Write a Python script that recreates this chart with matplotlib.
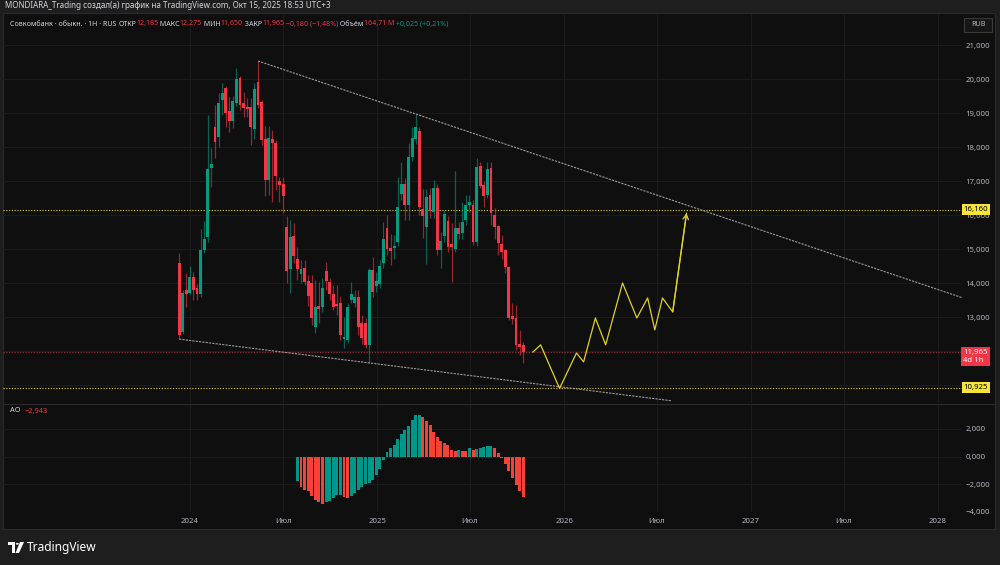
import matplotlib
matplotlib.use('Agg')
import matplotlib.pyplot as plt
import matplotlib.transforms as mtransforms
from matplotlib.patches import Rectangle, Polygon, Circle
import numpy as np
import pandas as pd

plt.rcParams['font.family'] = ['Noto Sans', 'DejaVu Sans']

# ---------------- data ----------------
dates = pd.date_range('2023-12-11', periods=97, freq='7D')
opens = [14.59, 12.56, 13.79, 13.70, 14.18, 13.85, 13.68, 14.97, 15.35, 17.38,
         18.59, 18.29, 19.38, 19.73, 19.06, 18.76, 19.29, 20.03, 19.29, 19.18,
         19.18, 18.53, 19.91, 19.32, 18.24, 17.03, 18.24, 18.12, 17.00, 16.91,
         15.65, 14.41, 15.38, 14.71, 14.26, 14.44, 14.06, 14.00, 12.71, 13.32,
         13.29, 14.35, 14.03, 13.68, 13.38, 13.41, 12.35, 12.32, 13.50, 13.41,
         13.59, 12.82, 12.82, 12.18, 14.38, 13.91, 13.97, 14.59, 15.62, 15.03,
         15.03, 15.20, 16.62, 16.91, 16.29, 17.71, 18.24, 18.47, 16.18, 15.65,
         16.59, 16.09, 16.79, 14.97, 15.38, 15.82, 15.15, 15.00, 15.62, 15.47,
         15.85, 16.29, 16.29, 15.20, 17.44, 16.88, 16.59, 17.38, 16.00, 15.68,
         15.15, 14.97, 14.47, 13.03, 12.97, 12.20, 12.185]
highs = [14.88, 13.79, 14.29, 14.50, 14.32, 13.97, 15.59, 15.82, 18.94, 17.97,
         19.24, 19.59, 19.88, 19.79, 19.47, 19.50, 20.32, 20.10, 19.62, 19.44,
         19.44, 19.88, 20.53, 19.38, 18.62, 18.62, 18.50, 18.21, 17.12, 17.12,
         15.97, 15.85, 15.76, 15.06, 14.68, 14.68, 14.24, 14.24, 14.09, 14.03,
         14.15, 14.62, 14.15, 13.94, 13.94, 13.62, 13.00, 13.40, 14.03, 13.79,
         13.79, 13.06, 12.97, 14.44, 14.76, 14.32, 14.68, 15.79, 16.00, 15.44,
         15.41, 17.12, 17.56, 17.10, 18.12, 18.59, 18.97, 18.60, 16.76, 16.76,
         16.80, 17.03, 16.90, 15.50, 16.15, 15.97, 15.76, 17.29, 15.80, 16.38,
         16.59, 16.59, 16.44, 17.68, 17.56, 17.00, 17.56, 17.56, 16.20, 15.70,
         15.41, 15.00, 14.50, 13.40, 13.35, 12.62, 12.275]
lows = [12.35, 12.50, 13.29, 13.68, 13.50, 13.50, 13.60, 14.88, 15.20, 16.82,
        17.68, 18.00, 18.94, 18.59, 18.44, 18.56, 19.20, 19.10, 18.88, 18.88,
        18.06, 18.24, 19.15, 18.06, 16.56, 16.59, 16.38, 16.74, 16.38, 16.06,
        14.00, 13.70, 14.60, 14.09, 14.00, 13.94, 13.32, 12.76, 12.53, 12.82,
        13.15, 13.79, 13.50, 13.20, 13.06, 12.32, 12.10, 12.24, 13.40, 13.30,
        12.47, 12.20, 12.09, 11.65, 13.60, 13.74, 13.85, 14.44, 14.82, 14.53,
        14.71, 15.09, 16.44, 15.85, 15.85, 17.60, 18.10, 16.00, 15.32, 14.56,
        15.90, 15.90, 14.82, 14.44, 15.20, 14.90, 14.03, 14.90, 15.30, 15.30,
        15.70, 16.10, 15.12, 15.10, 16.80, 16.24, 16.50, 15.70, 15.30, 14.82,
        14.70, 14.30, 12.90, 12.80, 12.03, 11.88, 11.650]
closes = [12.47, 13.70, 13.68, 14.18, 13.79, 13.68, 14.97, 15.30, 17.35, 17.50,
          18.15, 19.29, 19.59, 19.00, 18.76, 19.35, 20.00, 19.23, 19.15, 19.12,
          18.59, 19.70, 19.23, 18.21, 17.03, 18.26, 18.12, 17.15, 16.88, 16.56,
          14.35, 15.35, 14.79, 14.41, 14.41, 14.03, 13.62, 12.97, 13.29, 13.24,
          13.85, 14.06, 13.68, 13.29, 13.32, 12.47, 12.40, 13.29, 13.68, 13.59,
          12.71, 12.38, 12.18, 14.38, 13.74, 14.06, 14.50, 15.29, 15.00, 14.94,
          15.09, 16.24, 16.91, 16.29, 17.71, 18.26, 18.59, 16.24, 15.97, 16.53,
          16.12, 16.79, 14.97, 15.24, 16.03, 15.06, 15.06, 15.62, 15.44, 15.79,
          16.29, 16.38, 15.20, 17.41, 16.85, 16.56, 17.35, 16.06, 15.65, 15.18,
          14.91, 14.47, 12.97, 12.94, 12.18, 12.12, 11.965]

ao_dates = dates[33:]
ao_values = [-1.770, -2.254, -2.424, -2.545, -2.860, -3.151, -3.345, -3.466, -3.345, -3.224,
             -3.006, -2.836, -2.810, -2.957, -3.006, -2.860, -2.642, -2.400, -2.182, -2.036,
             -1.891, -1.721, -1.357, -0.921, -0.267, 0.339, 0.582, 0.824, 1.260, 1.648,
             1.891, 2.230, 2.642, 3.030, 3.050, 2.909, 2.594, 2.303, 1.794, 1.430,
             1.091, 1.018, 0.824, 0.461, 0.412, 0.485, 0.388, 0.380, 0.582, 0.461,
             0.533, 0.654, 0.703, 0.751, 0.776, 0.606, 0.242, -0.145, -0.558, -1.042,
             -1.576, -2.085, -2.545, -2.943]

forecast_dates = pd.to_datetime(['2025-11-01', '2025-11-16', '2025-12-23', '2026-01-25',
                                 '2026-02-08', '2026-03-03', '2026-03-23', '2026-04-25',
                                 '2026-05-23', '2026-06-13', '2026-06-27', '2026-07-12',
                                 '2026-08-01', '2026-08-28'])
forecast_prices = [11.97, 12.18, 10.90, 11.94, 11.68, 12.97, 12.18, 14.00,
                   12.97, 13.56, 12.62, 13.56, 13.15, 16.05]

upper_trend_dates = pd.to_datetime(['2024-05-13', '2028-02-17'])
upper_trend_prices = [20.53, 13.57]
lower_trend_dates = pd.to_datetime(['2023-12-11', '2026-07-30'])
lower_trend_prices = [12.35, 10.535]

level_high = 16.160
level_low = 10.925
last_price = 11.965

price_ticks = [13, 14, 15, 16, 17, 18, 19, 20, 21]
ao_ticks = [-4, -2, 0, 2]
time_ticks = pd.to_datetime(['2024-01-01', '2024-07-01', '2025-01-01', '2025-07-01',
                             '2026-01-01', '2026-07-01', '2027-01-01', '2027-07-01',
                             '2028-01-01'])
time_labels = ['2024', 'Июл', '2025', 'Июл', '2026', 'Июл', '2027', 'Июл', '2028']

# ---------------- style ----------------
W, H = 1000, 565
OUTER = '#1e1e1e'
BG = '#0f0f0f'
GRID = '#1b1b1b'
TXT = '#b2b5be'
GREEN = '#089981'
RED = '#f23645'
AO_GREEN = '#009688'
AO_RED = '#f44336'
YELLOW = '#f7e43a'
LINE_YEL = '#e0d02a'
FS = 5.6


def fx(px):
    return px / W


def fy(py):
    return 1 - py / H


def fmt(v):
    s = f"{abs(v):,.3f}".replace('.', ',')
    return ('\u2212' if v < 0 else '') + s


fig = plt.figure(figsize=(10, 5.65), dpi=100, facecolor=OUTER)

# chart panel
fig.add_artist(Rectangle((fx(3), fy(529)), fx(992), (529 - 13) / H, transform=fig.transFigure,
                         fc=BG, ec='#2b2b2b', lw=0.8, zorder=0))

xl = (pd.Timestamp('2023-01-01'), pd.Timestamp('2028-02-17'))

main = fig.add_axes([fx(3), fy(403), fx(959), (403 - 14) / H])
ao = fig.add_axes([fx(3), fy(512), fx(959), (512 - 404) / H])
for a in (main, ao):
    a.set_facecolor('none')
    for s in a.spines.values():
        s.set_visible(False)
    a.set_xlim(xl)
    a.set_xticks(time_ticks)
    a.grid(True, color=GRID, lw=0.8)
    a.set_axisbelow(True)
    a.yaxis.tick_right()
    a.tick_params(axis='y', length=0, pad=2.5, labelsize=FS, colors=TXT)
    a.tick_params(axis='x', length=0)

main.set_ylim(12 - (403 - 351) / 34, 12 + (351 - 14) / 34)
main.set_yticks(price_ticks)
main.set_yticklabels([fmt(v) for v in price_ticks])
for gl in (11, 12):
    main.axhline(gl, color=GRID, lw=0.8, zorder=0)
main.tick_params(axis='x', labelbottom=False)

ao.set_ylim(-(512 - 456.5) / 27.5 * 2, (456.5 - 404) / 27.5 * 2)
ao.set_yticks(ao_ticks)
ao.set_yticklabels([fmt(v) for v in ao_ticks])
ao.set_xticklabels(time_labels)
ao.tick_params(axis='x', labelsize=FS, colors=TXT, pad=4.5)

# candles
o = np.array(opens); c = np.array(closes); hi = np.array(highs); lo = np.array(lows)
up = c >= o
cols = np.where(up, GREEN, RED)
main.vlines(dates, lo, hi, colors=cols, lw=0.9, alpha=0.6, zorder=3)
body_bottom = np.minimum(o, c)
body_h = np.maximum(np.abs(c - o), 0.035)
main.bar(dates, body_h, bottom=body_bottom, width=5.6, color=cols, lw=0, zorder=4)

# levels
main.axhline(level_high, color=LINE_YEL, lw=0.8, ls=(0, (1, 1.5)), zorder=2)
main.axhline(level_low, color=LINE_YEL, lw=0.8, ls=(0, (1, 1.5)), zorder=2)
main.axhline(last_price, color='#8c2a33', lw=0.9, ls=(0, (1, 1.2)), zorder=2)

# trend lines
main.plot(upper_trend_dates, upper_trend_prices, color='#9a9a9a', lw=0.8,
          ls=(0, (2, 1)), zorder=5, clip_on=False)
main.plot(lower_trend_dates, lower_trend_prices, color='#9a9a9a', lw=0.8,
          ls=(0, (2, 1)), zorder=5)

# forecast path
main.plot(forecast_dates, forecast_prices, color=LINE_YEL, lw=0.9, zorder=6)
main.annotate('', xy=(forecast_dates[-1], forecast_prices[-1]),
              xytext=(forecast_dates[-2], forecast_prices[-2]),
              arrowprops=dict(arrowstyle='->,head_length=0.35,head_width=0.2',
                              color=LINE_YEL, lw=0.9, shrinkA=0, shrinkB=0), zorder=6)

# AO histogram
aov = np.array(ao_values)
diff = np.diff(aov, prepend=aov[0] - 1)
ao_cols = np.where(diff >= 0, AO_GREEN, AO_RED)
ao.bar(ao_dates, aov, width=5.8, color=ao_cols, lw=0, zorder=3)

# price scale labels in boxes
bt = mtransforms.blended_transform_factory(main.transAxes, main.transData)
main.text(1.0015, level_high, fmt(level_high), transform=bt, fontsize=FS, color='#000000',
          va='center', ha='left', clip_on=False, zorder=10,
          bbox=dict(boxstyle='square,pad=0.22', fc=YELLOW, ec='none'))
main.text(1.0015, level_low, fmt(level_low), transform=bt, fontsize=FS, color='#000000',
          va='center', ha='left', clip_on=False, zorder=10,
          bbox=dict(boxstyle='square,pad=0.22', fc=YELLOW, ec='none'))
main.text(1.0015, last_price - 0.13, fmt(last_price) + '\n4d 1h', transform=bt, fontsize=FS,
          color='#ffffff', va='center', ha='left', clip_on=False, zorder=10, linespacing=1.1,
          bbox=dict(boxstyle='square,pad=0.25', fc=RED, ec='none'))

# RUB box
fig.add_artist(Rectangle((fx(964), fy(32)), fx(28), 14 / H, transform=fig.transFigure,
                         fc='#161616', ec='#3a3a3a', lw=0.8, zorder=5))
fig.text(fx(978), fy(25), 'RUB', fontsize=FS - 0.4, color=TXT, ha='center', va='center', zorder=6)

# separators
fig.add_artist(plt.Line2D([fx(3), fx(995)], [fy(403.5), fy(403.5)], color='#2b2b2b', lw=0.8))

# header texts
fig.text(fx(5), fy(6), 'MONDIARA_Trading создал(а) график на TradingView.com, Окт 15, 2025 18:53 UTC+3',
         fontsize=5.8, color='#d1d4dc', ha='left', va='center')

renderer = fig.canvas.get_renderer()


def rich(x_px, y_px, parts, size):
    x = x_px
    for txt, col in parts:
        t = fig.text(fx(x), fy(y_px), txt, fontsize=size, color=col, ha='left', va='center')
        bb = t.get_window_extent(renderer)
        x = bb.x1


GRAYT = '#d1d4dc'
rich(10, 24, [('Совкомбанк · обыкн. · 1H · RUS ', GRAYT),
              ('ОТКР', GRAYT), ('12,185', RED),
              (' МАКС', GRAYT), ('12,275', RED),
              (' МИН', GRAYT), ('11,650', RED),
              (' ЗАКР', GRAYT), ('11,965', RED),
              (' \u22120,180 (\u22121,48%)', RED),
              (' Объём', GRAYT), ('164,71 M', RED),
              (' +0,025 (+0,21%)', GREEN)], 5.1)
rich(10, 411, [('AO  ', GRAYT), (fmt(ao_values[-1]), RED)], 5.3)

# TradingView logo
logo = [
    Polygon([(fx(8), fy(542)), (fx(15), fy(542)), (fx(15), fy(553)), (fx(12), fy(553)),
             (fx(12), fy(545)), (fx(8), fy(545))], closed=True),
    Circle((fx(17.3), fy(543.8)), 1.6 / W),
    Polygon([(fx(20), fy(542)), (fx(24), fy(542)), (fx(19), fy(553)), (fx(15.5), fy(553))],
            closed=True),
]
for p in logo:
    p.set_transform(fig.transFigure)
    p.set_facecolor('#ffffff')
    p.set_edgecolor('none')
    fig.add_artist(p)
fig.text(fx(27), fy(547.5), 'TradingView', fontsize=8.6, color='#ffffff', fontweight='bold',
         ha='left', va='center')

fig.savefig('out.png', dpi=100, facecolor=OUTER)
